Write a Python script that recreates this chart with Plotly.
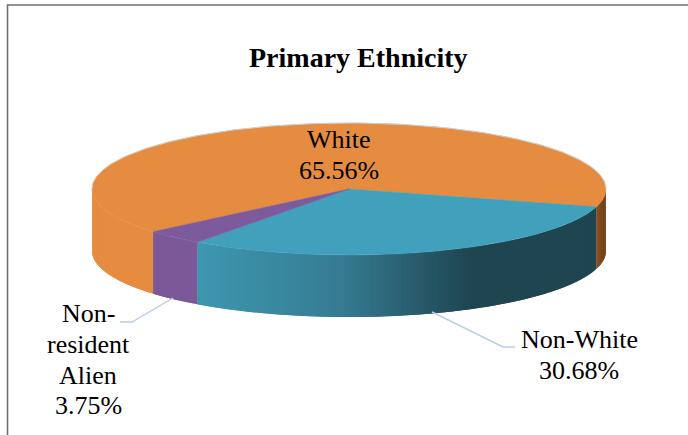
import math
import plotly.graph_objects as go

TITLE = "Primary Ethnicity"
categories = ["Non-White", "Non-resident Alien", "White"]
values = [30.68, 3.75, 65.56]
value_labels = ["30.68%", "3.75%", "65.56%"]
top_colors = ["#41A0BC", "#7D5A9B", "#E58C41"]
side_start = ["#3E98B0", "#7B5898", "#E58C41"]
side_mid = ["#357C93", "#7B5898", "#E48B41"]
side_end = ["#1F4551", "#7B5898", "#E38A40"]

W, H = 688, 435
CX, CY, RX, RY, DEPTH = 349, 189, 257, 66, 62
START_DEG = 15.7
GRAD_X0, GRAD_XM, GRAD_X1 = 196, 340, 470
SERIF = "Liberation Serif"
TICK = 1.0


def pt(deg, dy=0):
    a = math.radians(deg)
    return CX + RX * math.cos(a), CY + RY * math.sin(a) + dy


def arc(a0, a1):
    n = max(2, int(abs(a1 - a0) / TICK) + 1)
    return [a0 + (a1 - a0) * i / (n - 1) for i in range(n)]


def mix(c0, c1, t):
    t = min(1.0, max(0.0, t))
    p = [int(c0[i:i + 2], 16) for i in (1, 3, 5)]
    q = [int(c1[i:i + 2], 16) for i in (1, 3, 5)]
    return "rgb(%d,%d,%d)" % tuple(round(u + (v - u) * t) for u, v in zip(p, q))


def shade(i, x):
    if x < GRAD_XM:
        return mix(side_start[i], side_mid[i], (x - GRAD_X0) / (GRAD_XM - GRAD_X0))
    return mix(side_mid[i], side_end[i], (x - GRAD_XM) / (GRAD_X1 - GRAD_XM))


total = sum(values)
bounds = [START_DEG]
for v in values:
    bounds.append(bounds[-1] + v / total * 360)

fig = go.Figure()


def poly(xs, ys, color, name, width=0.0):
    fig.add_trace(go.Scatter(x=xs, y=ys, mode="lines", fill="toself", fillcolor=color,
                             line=dict(color=color, width=width), hoverinfo="text",
                             text=name, showlegend=False))


def wall(lo, hi, color_at, name):
    """Rim band between two angles; each strip overlaps the next so no seams show."""
    steps = arc(lo, hi)
    for s, e in zip(steps[:-1], steps[1:]):
        e2 = min(hi, e + TICK)
        mid = arc(s, e2)
        top = [pt(a) for a in mid]
        bot = [pt(a, DEPTH) for a in reversed(mid)]
        ring = top + bot + [top[0]]
        poly([p[0] for p in ring], [p[1] for p in ring], color_at(pt((s + e) / 2)[0]), name)


# Side walls: the front half of the rim
for i, cat in enumerate(categories):
    lo, hi = bounds[i], min(bounds[i + 1], 180)
    if hi > lo:
        wall(lo, hi, lambda x, i=i: shade(i, x), cat)

# Right-hand piece of the large slice, seen on the rim in brown
wall(0, START_DEG, lambda x: mix("#8A5020", "#6B3F17", (x - pt(START_DEG)[0]) / (pt(0)[0] - pt(START_DEG)[0])),
     categories[2])

# Top faces
for i in [2, 0, 1]:
    pts = [pt(a) for a in arc(bounds[i], bounds[i + 1])]
    xs = [CX] + [p[0] for p in pts] + [CX]
    ys = [CY] + [p[1] for p in pts] + [CY]
    poly(xs, ys, top_colors[i], categories[i], 0.5)

# Faint rim on the back of the disc
back = [pt(a) for a in arc(180, 360)]
fig.add_trace(go.Scatter(x=[p[0] for p in back], y=[p[1] for p in back], mode="lines",
                         line=dict(color="#CFCFCF", width=1), hoverinfo="skip", showlegend=False))

# Leader lines
leaders = [([432, 503, 515], [312, 347, 347]), ([173, 132, 120], [298, 322, 322])]
for xs, ys in leaders:
    fig.add_trace(go.Scatter(x=xs, y=ys, mode="lines", line=dict(color="#B9CDE5", width=1.4),
                             hoverinfo="skip", showlegend=False))

# Data labels, set one line at a time for the tight line pitch
label_lines = [
    (579, [339, 370], ["Non-White", value_labels[0]]),
    (88, [313, 344, 375, 405], ["Non-", "resident", "Alien", value_labels[1]]),
    (339, [139, 170], ["White", value_labels[2]]),
]
annotations = []
for x, ys, lines in label_lines:
    for y, t in zip(ys, lines):
        annotations.append(dict(x=x, y=y, xref="x", yref="y", text=t, showarrow=False,
                                xanchor="center", yanchor="middle",
                                font=dict(family=SERIF, size=26, color="#000000")))
annotations.append(dict(x=358, y=57, xref="x", yref="y", text="<b>%s</b>" % TITLE, showarrow=False,
                        xanchor="center", yanchor="middle",
                        font=dict(family=SERIF, size=28, color="#000000")))

fig.update_layout(
    width=W, height=H, autosize=False,
    margin=dict(l=0, r=0, t=0, b=0),
    paper_bgcolor="#FFFFFF", plot_bgcolor="#FFFFFF",
    xaxis=dict(range=[0, W], visible=False, fixedrange=True),
    yaxis=dict(range=[H, 0], visible=False, fixedrange=True),
    annotations=annotations,
    shapes=[dict(type="rect", xref="x", yref="y", x0=7.5, x1=W + 10, y0=5, y1=H + 10,
                 line=dict(color="#6F6F6F", width=1.6), layer="below")],
)
fig.write_html("out.html", config=dict(displayModeBar=False),
               post_script="document.documentElement.style.overflow='hidden';document.body.style.margin='0';")
